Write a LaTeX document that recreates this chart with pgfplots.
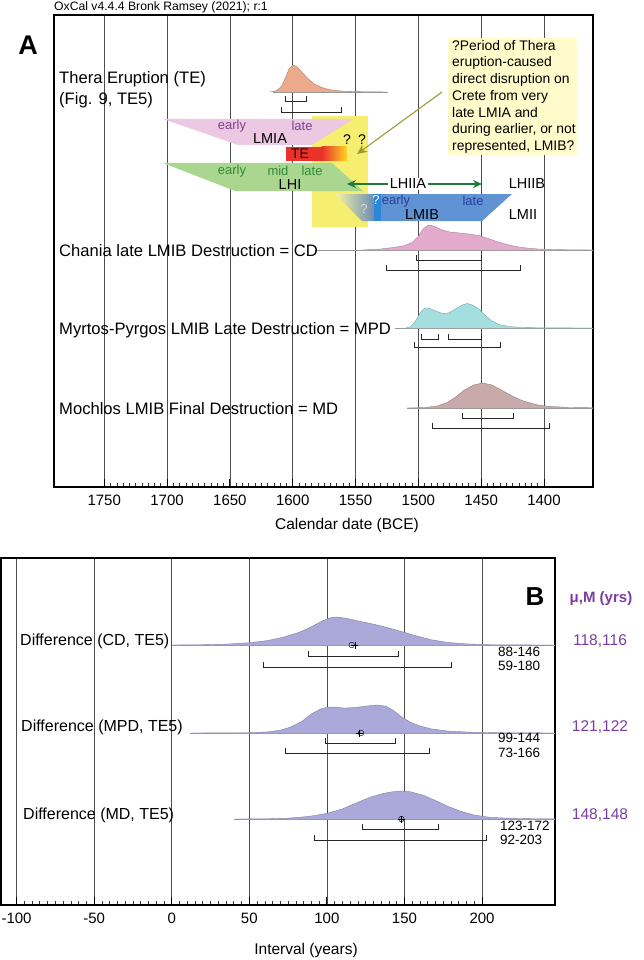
\documentclass[border=0pt]{standalone}
\usepackage{fontspec}
\setmainfont{Liberation Sans}
\usepackage{pgfplots}
\usepackage{pgfplotstable}
\pgfplotsset{compat=1.18}
\usetikzlibrary{arrows.meta}

\definecolor{tecurve}{HTML}{EBAA8C}
\definecolor{cdcurve}{HTML}{E3AACB}
\definecolor{mpdcurve}{HTML}{A4DEDE}
\definecolor{mdcurve}{HTML}{C9A9A9}
\definecolor{diffcurve}{HTML}{ABA9D9}
\definecolor{lmia}{HTML}{ECC8E2}
\definecolor{lhi}{HTML}{AAD690}
\definecolor{hiyel}{HTML}{F6EE6E}
\definecolor{lmib}{HTML}{5F93D3}
\definecolor{lmibstrip}{HTML}{2C86DA}
\definecolor{gblue}{HTML}{6B8DB3}
\definecolor{tered}{HTML}{E8322A}
\definecolor{teyel}{HTML}{FFD422}
\definecolor{callbg}{HTML}{FFFBCB}
\definecolor{olivearr}{HTML}{9C9C30}
\definecolor{dgreen}{HTML}{1E7B3C}
\definecolor{lmiatxt}{HTML}{80408F}
\definecolor{lhitxt}{HTML}{2F8A3A}
\definecolor{lmibtxt}{HTML}{2E3C9C}
\definecolor{purp}{HTML}{7A3DA3}

\newcommand{\fs}[1]{\fontsize{#1}{#1}\selectfont}

% posterior densities, panel A (year BCE, relative height)
\pgfplotstableread{
yr d
1618 0
1613 0.05
1609 0.2
1606 0.5
1603 0.85
1600 1.0
1597 0.95
1593 0.75
1588 0.5
1583 0.3
1577 0.17
1570 0.08
1560 0.03
1545 0.01
1525 0
}\TEdata
\pgfplotstableread{
yr d
1545 0
1530 0.04
1520 0.1
1512 0.16
1505 0.3
1500 0.55
1496 0.85
1492 1.0
1488 0.96
1482 0.82
1475 0.72
1467 0.68
1460 0.64
1452 0.58
1445 0.47
1437 0.33
1428 0.2
1418 0.1
1405 0.04
1390 0.015
1370 0.005
1361 0
}\CDdata
\pgfplotstableread{
yr d
1510 0
1506 0.05
1502 0.3
1498 0.65
1495 0.8
1492 0.8
1487 0.7
1481 0.58
1476 0.6
1470 0.78
1465 0.92
1461 0.98
1457 0.92
1452 0.76
1447 0.52
1442 0.3
1436 0.14
1428 0.06
1418 0.02
1400 0.005
1361 0
}\MPDdata
\pgfplotstableread{
yr d
1509 0
1495 0.02
1485 0.08
1477 0.22
1470 0.45
1464 0.7
1456 0.92
1449 1.0
1442 0.93
1434 0.72
1425 0.47
1416 0.27
1405 0.12
1397 0.07
1380 0.02
1361 0.01
}\MDdata

% differences, panel B (years, relative height)
\pgfplotstableread{
v d
0 0
20 0.01
35 0.03
50 0.08
62 0.16
72 0.28
82 0.45
90 0.65
97 0.86
102 0.97
106 1.0
112 0.96
120 0.86
127 0.78
135 0.68
143 0.56
150 0.45
158 0.32
167 0.19
178 0.09
190 0.04
205 0.01
225 0.003
247 0
}\CDdiff
\pgfplotstableread{
v d
12 0
50 0.01
62 0.04
70 0.1
77 0.22
84 0.42
90 0.68
96 0.86
101 0.93
106 0.92
111 0.89
118 0.91
125 0.96
132 1.0
138 0.96
143 0.8
148 0.58
154 0.38
160 0.25
167 0.15
178 0.07
192 0.03
210 0.01
247 0
}\MPDdiff
\pgfplotstableread{
v d
40 0
60 0.005
75 0.03
88 0.09
100 0.2
110 0.36
120 0.6
128 0.78
136 0.91
142 0.97
148 1.0
154 0.97
162 0.85
170 0.66
178 0.45
186 0.28
195 0.14
205 0.06
218 0.025
232 0.01
247 0.005
}\MDdiff

\newcommand{\brk}[4]{\addplot[black!85, line width=0.9pt, mark=none] coordinates {(#1,#4) (#1,#3) (#2,#3) (#2,#4)};}

\pgfplotsset{
  oxaxis/.style={
    scale only axis,
    ytick=\empty,
    tick pos=bottom,
    tick align=inside,
    xmajorgrids,
    grid style={black!70, line width=0.5pt},
    axis line style={line width=1.2pt},
    major tick length=8pt,
    minor tick length=4.5pt,
    major tick style={black, line width=0.8pt},
    minor tick style={black!80, line width=0.6pt},
    minor x tick num=9,
    xticklabel style={font=\fs{15}, yshift=-4pt},
    /pgf/number format/assume math mode=true,
    /pgf/number format/1000 sep={},
  },
  dens/.style={line width=0.4pt, mark=none},
  base/.style={black!40, line width=0.6pt, mark=none},
}

\begin{document}
\begin{tikzpicture}
\path[use as bounding box] (0pt,0pt) rectangle (643pt,-960pt);

% ---------- panel A ----------
\begin{axis}[oxaxis,
  at={(54pt,-487pt)}, anchor=south west,
  width=539pt, height=472pt,
  xmin=1361, xmax=1790, x dir=reverse,
  ymin=-487, ymax=-15,
  xtick={1400,1450,...,1750},
]
% phase bands
\addplot[fill=hiyel, draw=none, mark=none] coordinates {(1584.7,-116) (1540.1,-116) (1540.1,-227) (1584.7,-227)};
\addplot[fill=lmia, draw=none, mark=none] coordinates {(1703.2,-119) (1552.0,-119) (1584.7,-145) (1643.6,-145)};
\addplot[fill=tered, draw=none, mark=none] coordinates {(1605.4,-147) (1576.7,-147) (1576.7,-161) (1605.4,-161)};
\shade[left color=tered, right color=teyel] (axis cs:1576.7,-147) rectangle (axis cs:1556.8,-161);
\addplot[fill=lhi, draw=none, mark=none] coordinates {(1703.2,-163) (1568.7,-163) (1544.1,-191) (1645.9,-191)};
\shade[left color=hiyel!60!white, right color=gblue] (axis cs:1566.4,-194) -- (axis cs:1535.3,-194) -- (axis cs:1535.3,-221) -- (axis cs:1544.9,-221) -- cycle;
\addplot[fill=lmibstrip, draw=none, mark=none] coordinates {(1535.3,-194) (1529.7,-194) (1529.7,-221) (1535.3,-221)};
\addplot[fill=lmib, draw=none, mark=none] coordinates {(1529.7,-194) (1425.5,-194) (1449.3,-221) (1529.7,-221)};

% Thera eruption
\addplot[base] coordinates {(1615.7,-92) (1524.2,-92)};
\addplot[dens, fill=tecurve, draw=tecurve!75!black] table[x=yr, y expr=-92+27*\thisrow{d}] {\TEdata};
\brk{1605.4}{1589.4}{-101}{-96}
\brk{1609.3}{1561.6}{-112}{-107}
% Chania
\addplot[base] coordinates {(1582.3,-250) (1361,-250)};
\addplot[dens, fill=cdcurve, draw=cdcurve!75!black] table[x=yr, y expr=-250+25*\thisrow{d}] {\CDdata};
\brk{1501.9}{1450.1}{-260}{-255}
\brk{1525.0}{1419.1}{-270}{-265}
% Myrtos-Pyrgos
\addplot[base] coordinates {(1518.6,-328) (1361,-328)};
\addplot[dens, fill=mpdcurve, draw=mpdcurve!75!black] table[x=yr, y expr=-328+25*\thisrow{d}] {\MPDdata};
\brk{1497.9}{1484.4}{-339}{-334}
\brk{1476.4}{1450.1}{-339}{-334}
\brk{1503.5}{1435.0}{-347}{-342}
% Mochlos
\addplot[base] coordinates {(1509.0,-408) (1361,-408)};
\addplot[dens, fill=mdcurve, draw=mdcurve!75!black] table[x=yr, y expr=-408+25*\thisrow{d}] {\MDdata};
\brk{1465.3}{1424.7}{-418}{-413}
\brk{1489.1}{1396.0}{-428}{-423}
\end{axis}

% ---------- panel B ----------
\begin{axis}[oxaxis,
  at={(1pt,-905pt)}, anchor=south west,
  width=554pt, height=347pt,
  xmin=-110, xmax=247,
  ymin=-905, ymax=-558,
  xtick={-100,-50,...,200},
]
\addplot[base] coordinates {(0,-645) (247,-645)};
\addplot[dens, fill=diffcurve, draw=diffcurve!75!black] table[x=v, y expr=-645+28*\thisrow{d}] {\CDdiff};
\addplot[only marks, mark=+, mark size=3.5pt, black] coordinates {(118,-645)};
\addplot[only marks, mark=o, mark size=2.8pt, black] coordinates {(116,-645)};
\brk{88}{146}{-656}{-651}
\brk{59}{180}{-667}{-662}

\addplot[base] coordinates {(12,-733) (247,-733)};
\addplot[dens, fill=diffcurve, draw=diffcurve!75!black] table[x=v, y expr=-733+28*\thisrow{d}] {\MPDdiff};
\addplot[only marks, mark=+, mark size=3.5pt, black] coordinates {(121,-733)};
\addplot[only marks, mark=o, mark size=2.8pt, black] coordinates {(122,-733)};
\brk{99}{144}{-743}{-738}
\brk{73}{166}{-753}{-748}

\addplot[base] coordinates {(40,-819) (247,-819)};
\addplot[dens, fill=diffcurve, draw=diffcurve!75!black] table[x=v, y expr=-819+28*\thisrow{d}] {\MDdiff};
\addplot[only marks, mark=+, mark size=3.5pt, black] coordinates {(148,-819)};
\addplot[only marks, mark=o, mark size=2.8pt, black] coordinates {(148,-819)};
\brk{123}{172}{-829}{-824}
\brk{92}{203}{-840}{-835}
\end{axis}

% ---------- annotations (pixel coordinates) ----------
\begin{scope}[x=1pt, y=-1pt]
\node[anchor=west, inner sep=0, font=\fs{12.2}] at (54,7) {OxCal v4.4.4 Bronk Ramsey (2021); r:1};
\node[font=\fs{27}\bfseries] at (28,45) {A};
\node[anchor=west, inner sep=0, font=\fs{16.6}] at (59,79) {Thera Eruption (TE)};
\node[anchor=west, inner sep=0, font=\fs{16.6}] at (59,100) {(Fig. 9, TE5)};

% band labels
\node[font=\fs{13}, text=lmiatxt] at (232,126) {early};
\node[font=\fs{13}, text=lmiatxt] at (302,126) {late};
\node[font=\fs{14.5}] at (270,139) {LMIA};
\node[font=\fs{14}] at (347,140) {?};
\node[font=\fs{14}] at (362,140) {?};
\node[font=\fs{14}, text=black!85!red] at (300,154) {TE};
\node[font=\fs{13}, text=lhitxt] at (232,171) {early};
\node[font=\fs{13}, text=lhitxt] at (278,171) {mid};
\node[font=\fs{13}, text=lhitxt] at (312,171) {late};
\node[font=\fs{14.5}] at (290,185) {LHI};
\draw[dgreen, line width=1.4pt, {Stealth[length=9pt,width=8pt]}-{Stealth[length=9pt,width=8pt]}] (347,184) -- (482,184);
\node[fill=white, inner sep=1.5pt, font=\fs{14.5}] at (408,184) {LHIIA};
\node[font=\fs{14.5}] at (527,184) {LHIIB};
\node[font=\fs{13}, text=white] at (376,200) {?};
\node[font=\fs{13}, text=white!85!black] at (364,209) {?};
\node[font=\fs{13}, text=lmibtxt] at (396,201) {early};
\node[font=\fs{13}, text=lmibtxt] at (473,201) {late};
\node[font=\fs{14.5}] at (422,215) {LMIB};
\node[font=\fs{14.5}] at (523,215) {LMII};

% callout
\fill[callbg] (448,38) rectangle (577,155);
\node[anchor=north west, inner sep=0, align=left, font=\fontsize{13.9}{16.7}\selectfont] at (452,40)
  {?Period of Thera\\eruption-caused\\direct disruption on\\Crete from very\\late LMIA and\\during earlier, or not\\represented, LMIB?};
\draw[olivearr, line width=1.1pt, -{Stealth[length=10pt,width=9pt]}] (442,92) -- (357,154);

\node[anchor=west, inner sep=0, font=\fs{16.6}] at (59,251) {Chania late LMIB Destruction = CD};
\node[anchor=west, inner sep=0, font=\fs{16.6}] at (59,330) {Myrtos-Pyrgos LMIB Late Destruction = MPD};
\node[anchor=west, inner sep=0, font=\fs{16.6}] at (59,409) {Mochlos LMIB Final Destruction = MD};
\node[font=\fs{15.5}] at (347,525) {Calendar date (BCE)};

% panel B text
\node[font=\fs{26}\bfseries] at (535,597) {B};
\node[font=\fs{15}\bfseries, text=purp] at (601,599) {μ,M (yrs)};
\node[anchor=west, inner sep=0, font=\fs{16}] at (20,641) {Difference (CD, TE5)};
\node[anchor=west, inner sep=0, font=\fs{16}] at (21,727) {Difference (MPD, TE5)};
\node[anchor=west, inner sep=0, font=\fs{16}] at (23,815) {Difference (MD, TE5)};
\node[anchor=west, inner sep=0, font=\fs{13.5}] at (498,652) {88-146};
\node[anchor=west, inner sep=0, font=\fs{13.5}] at (498,666) {59-180};
\node[anchor=west, inner sep=0, font=\fs{13.5}] at (498,738) {99-144};
\node[anchor=west, inner sep=0, font=\fs{13.5}] at (498,753) {73-166};
\node[anchor=west, inner sep=0, font=\fs{13.5}] at (500,826) {123-172};
\node[anchor=west, inner sep=0, font=\fs{13.5}] at (500,840) {92-203};
\node[font=\fs{15.5}, text=purp] at (600,641) {118,116};
\node[font=\fs{15.5}, text=purp] at (600,727) {121,122};
\node[font=\fs{15.5}, text=purp] at (600,815) {148,148};
\node[font=\fs{15.5}] at (306,950) {Interval (years)};
\end{scope}
\end{tikzpicture}
\end{document}
